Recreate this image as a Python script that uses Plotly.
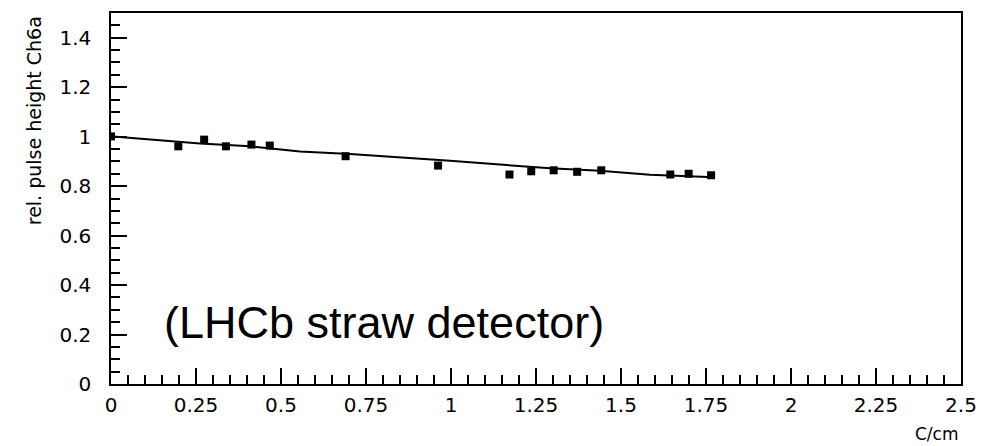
import plotly.graph_objects as go

# measured points
dist_cm = [0.0, 0.198, 0.274, 0.338, 0.413, 0.467, 0.690, 0.962, 1.172, 1.236, 1.302, 1.371, 1.442, 1.645, 1.699, 1.765]
rel_height = [1.001, 0.961, 0.988, 0.961, 0.968, 0.964, 0.921, 0.883, 0.847, 0.860, 0.864, 0.858, 0.864, 0.847, 0.850, 0.844]

# fitted curve
fit_x = [0.006, 0.115, 0.262, 0.409, 0.556, 0.703, 0.850, 0.997, 1.144, 1.291, 1.438, 1.585, 1.776]
fit_y = [1.001, 0.989, 0.972, 0.961, 0.940, 0.930, 0.918, 0.903, 0.887, 0.872, 0.862, 0.846, 0.836]

x_tickvals = [0, 0.25, 0.5, 0.75, 1, 1.25, 1.5, 1.75, 2, 2.25, 2.5]
x_ticktext = ["0", "0.25", "0.5", "0.75", "1", "1.25", "1.5", "1.75", "2", "2.25", "2.5"]
y_tickvals = [0, 0.2, 0.4, 0.6, 0.8, 1.0, 1.2, 1.4]
y_ticktext = ["0", "0.2", "0.4", "0.6", "0.8", "1", "1.2", "1.4"]

fig = go.Figure()
fig.add_trace(go.Scatter(x=fit_x, y=fit_y, mode="lines",
                         line=dict(color="black", width=2), showlegend=False))
fig.add_trace(go.Scatter(x=dist_cm, y=rel_height, mode="markers",
                         marker=dict(symbol="square", size=8, color="black"),
                         showlegend=False))

tickfont = dict(family="DejaVu Sans", size=20, color="black")
fig.update_layout(
    width=994, height=446,
    margin=dict(l=111, r=33, t=11, b=62),
    paper_bgcolor="white", plot_bgcolor="white",
    xaxis=dict(range=[0, 2.5], tickvals=x_tickvals, ticktext=x_ticktext,
               ticks="inside", ticklen=16, tickwidth=1.5, tickcolor="black",
               minor=dict(dtick=0.05, tick0=0, ticks="inside", ticklen=9,
                          tickwidth=1.5, tickcolor="black", showgrid=False),
               showline=True, linecolor="black", linewidth=1.5, mirror=True,
               showgrid=False, zeroline=False, tickfont=tickfont,
               ticklabelstandoff=2),
    yaxis=dict(range=[0, 1.5], tickvals=y_tickvals, ticktext=y_ticktext,
               ticks="inside", ticklen=16, tickwidth=1.5, tickcolor="black",
               minor=dict(dtick=0.05, tick0=0, ticks="inside", ticklen=9,
                          tickwidth=1.5, tickcolor="black", showgrid=False),
               showline=True, linecolor="black", linewidth=1.5, mirror=True,
               showgrid=False, zeroline=False, tickfont=tickfont,
               ticklabelstandoff=14),
    annotations=[
        dict(text="C/cm", xref="paper", yref="paper", x=1.0, y=-0.166,
             xanchor="right", yanchor="bottom", showarrow=False,
             font=dict(family="DejaVu Sans", size=17, color="black")),
        dict(text="rel. pulse height Ch6a", xref="paper", yref="paper",
             x=-0.091, y=0.997, xanchor="center", yanchor="top",
             textangle=-90, showarrow=False,
             font=dict(family="DejaVu Sans", size=19, color="black")),
        dict(text="(LHCb straw detector)", xref="paper", yref="paper",
             x=0.06, y=0.166, xanchor="left", yanchor="middle",
             showarrow=False,
             font=dict(family="Liberation Sans", size=45, color="black")),
    ],
)

fig.write_html("out.html")
